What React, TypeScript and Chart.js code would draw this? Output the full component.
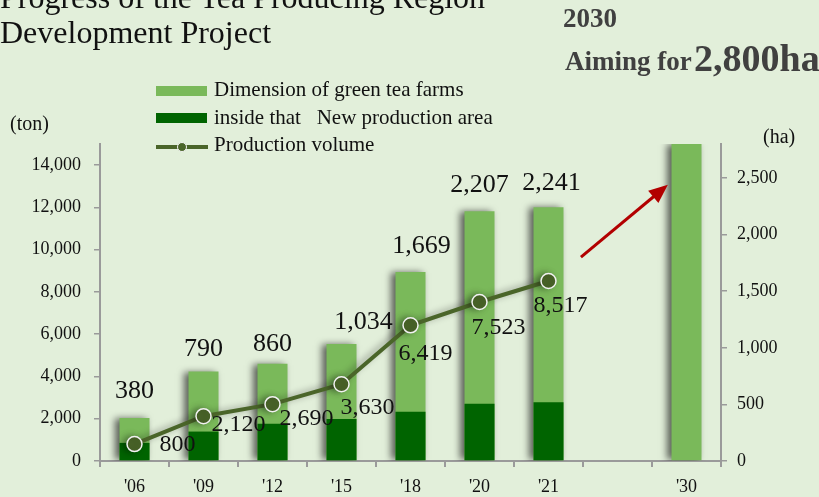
import React, { useEffect, useRef } from "react";
import { Chart, registerables } from "chart.js";

Chart.register(...registerables);

const categories = ["'06", "'09", "'12", "'15", "'18", "'20", "'21", "", "'30"];
const farmArea = [380, 790, 860, 1034, 1669, 2207, 2241, null, 2800];
const newArea = [160, 260, 330, 370, 435, 505, 520, null, null];
const production = [800, 2120, 2690, 3630, 6419, 7523, 8517, null, null];
const leftTicks = [0, 2000, 4000, 6000, 8000, 10000, 12000, 14000];
const rightTicks = [0, 500, 1000, 1500, 2000, 2500];

const BG = "#e2efda";
const LIGHT = "#7ab95a";
const DARK = "#006400";
const LINE = "#4a6529";
const SERIF = "'Liberation Serif', 'Times New Roman', serif";

const fmt = (v: number) => v.toLocaleString("en-US");

const shadowPlugin = {
  id: "shadowPlugin",
  beforeDatasetDraw(chart: any, args: any) {
    if (args.index === 0 || args.index === 2) {
      const ctx = chart.ctx;
      ctx.save();
      ctx.shadowColor = args.index === 0 ? "rgba(0,0,0,0.6)" : "rgba(0,0,0,0.35)";
      ctx.shadowBlur = 7;
      ctx.shadowOffsetX = -4;
      ctx.shadowOffsetY = 0;
    }
  },
  afterDatasetDraw(chart: any, args: any) {
    if (args.index === 0 || args.index === 2) chart.ctx.restore();
  },
};

const labelPlugin = {
  id: "labelPlugin",
  afterDatasetsDraw(chart: any) {
    const ctx = chart.ctx;
    const barMeta = chart.getDatasetMeta(0);
    const lineMeta = chart.getDatasetMeta(2);
    const barNudge = [[0, -20], [0, -16], [0, -13], [22, -15], [11, -19], [0, -19], [3, -17]];
    const lineNudge = [[43, 1], [35, 9], [34, 15], [26, 23], [15, 28], [19, 26], [12, 25]];
    ctx.save();
    ctx.fillStyle = "#111";
    ctx.textAlign = "center";
    ctx.textBaseline = "alphabetic";
    ctx.font = `26px ${SERIF}`;
    farmArea.forEach((v, i) => {
      if (v == null || categories[i] === "'30") return;
      const el = barMeta.data[i];
      const n = barNudge[i] || [0, -16];
      ctx.fillText(fmt(v), el.x + n[0], el.y + n[1]);
    });
    ctx.font = `24px ${SERIF}`;
    ctx.textBaseline = "middle";
    production.forEach((v, i) => {
      if (v == null) return;
      const el = lineMeta.data[i];
      const n = lineNudge[i] || [15, 20];
      ctx.fillText(fmt(v), el.x + n[0], el.y + n[1]);
    });
    // arrow towards the 2030 target
    const xs = chart.scales.x;
    const ys = chart.scales.y1;
    const x1 = xs.getPixelForValue(6.47);
    const y1 = ys.getPixelForValue(1800);
    const x2 = xs.getPixelForValue(7.73);
    const y2 = ys.getPixelForValue(2440);
    const ang = Math.atan2(y2 - y1, x2 - x1);
    const headLen = 19;
    const headW = 8;
    ctx.strokeStyle = "#b20000";
    ctx.fillStyle = "#b20000";
    ctx.lineWidth = 3;
    ctx.beginPath();
    ctx.moveTo(x1, y1);
    ctx.lineTo(x2 - Math.cos(ang) * headLen * 0.8, y2 - Math.sin(ang) * headLen * 0.8);
    ctx.stroke();
    ctx.beginPath();
    ctx.moveTo(x2, y2);
    ctx.lineTo(
      x2 - Math.cos(ang) * headLen - Math.sin(ang) * headW,
      y2 - Math.sin(ang) * headLen + Math.cos(ang) * headW
    );
    ctx.lineTo(
      x2 - Math.cos(ang) * headLen + Math.sin(ang) * headW,
      y2 - Math.sin(ang) * headLen - Math.cos(ang) * headW
    );
    ctx.closePath();
    ctx.fill();
    ctx.restore();
  },
};

export default function App() {
  const ref = useRef<HTMLCanvasElement | null>(null);

  useEffect(() => {
    if (!ref.current) return;
    Chart.defaults.font.family = SERIF;
    const tickFont = { family: SERIF, size: 18 };
    const chart = new Chart(ref.current, {
      type: "bar",
      data: {
        labels: categories,
        datasets: [
          {
            type: "bar",
            label: "Dimension of green tea farms",
            data: farmArea,
            backgroundColor: LIGHT,
            yAxisID: "y1",
            grouped: false,
            barPercentage: 0.435,
            categoryPercentage: 1,
            order: 2,
          } as any,
          {
            type: "bar",
            label: "inside that New production area",
            data: newArea,
            backgroundColor: DARK,
            yAxisID: "y1",
            grouped: false,
            barPercentage: 0.435,
            categoryPercentage: 1,
            order: 1,
          } as any,
          {
            type: "line",
            label: "Production volume",
            data: production,
            borderColor: LINE,
            borderWidth: 4,
            backgroundColor: LINE,
            pointBackgroundColor: LINE,
            pointBorderColor: "#f2f2f2",
            pointBorderWidth: 1.5,
            pointRadius: 7.5,
            yAxisID: "y",
            order: 0,
            tension: 0,
          } as any,
        ],
      },
      options: {
        responsive: false,
        animation: false,
        layout: { padding: { top: 144, left: 0, right: 0, bottom: 0 } },
        plugins: {
          legend: { display: false },
          tooltip: { enabled: false },
          title: { display: false },
        },
        scales: {
          x: {
            offset: true,
            grid: {
              drawOnChartArea: false,
              offset: true,
              color: "#9a9a9a",
              lineWidth: 2,
              tickLength: 6,
            },
            border: { color: "#9a9a9a", width: 2 },
            ticks: { font: tickFont, color: "#111", padding: 9, maxRotation: 0 },
            afterFit: (s: any) => {
              s.height = 36;
            },
          },
          y: {
            position: "left",
            min: 0,
            max: 15000,
            grid: { drawOnChartArea: false, color: "#9a9a9a", lineWidth: 1.5, tickLength: 6 },
            border: { color: "#9a9a9a", width: 2 },
            ticks: { font: tickFont, color: "#111", padding: 13, stepSize: 2000 },
            afterBuildTicks: (s: any) => {
              s.ticks = leftTicks.map((v) => ({ value: v }));
            },
            afterFit: (s: any) => {
              s.width = 100;
            },
          },
          y1: {
            position: "right",
            min: 0,
            max: 2800,
            grid: { drawOnChartArea: false, color: "#9a9a9a", lineWidth: 1.5, tickLength: 6 },
            border: { color: "#9a9a9a", width: 2 },
            ticks: { font: tickFont, color: "#111", padding: 10, stepSize: 500 },
            afterBuildTicks: (s: any) => {
              s.ticks = rightTicks.map((v) => ({ value: v }));
            },
            afterFit: (s: any) => {
              s.width = 98;
            },
          },
        },
      },
      plugins: [shadowPlugin, labelPlugin],
    } as any);
    return () => chart.destroy();
  }, []);

  const abs = (o: React.CSSProperties): React.CSSProperties => ({
    position: "absolute",
    whiteSpace: "pre",
    fontFamily: SERIF,
    ...o,
  });

  return (
    <div
      style={{
        position: "fixed",
        left: 0,
        top: 0,
        width: 819,
        height: 497,
        background: BG,
        overflow: "hidden",
      }}
    >
      <canvas ref={ref} width={819} height={497} style={{ display: "block", position: "absolute", left: 0, top: 0 }} />
      <div style={abs({ left: 0, top: -20.3, fontSize: 32, lineHeight: "35px", color: "#111" })}>
        {"Progress of the Tea Producing Region\nDevelopment Project"}
      </div>
      <div style={abs({ left: 563, top: 5, fontSize: 27, lineHeight: "27px", fontWeight: "bold", color: "#404040" })}>
        2030
      </div>
      <div style={abs({ left: 565, top: 48.4, fontSize: 27, lineHeight: "27px", fontWeight: "bold", color: "#404040" })}>
        Aiming for
      </div>
      <div style={abs({ left: 694, top: 39.2, fontSize: 38, lineHeight: "38px", fontWeight: "bold", color: "#404040" })}>
        2,800ha
      </div>
      <div style={abs({ left: 10, top: 113, fontSize: 20, lineHeight: "20px", color: "#111" })}>(ton)</div>
      <div style={abs({ left: 763, top: 126, fontSize: 20, lineHeight: "20px", color: "#111" })}>(ha)</div>

      {/* legend */}
      <div style={abs({ left: 156, top: 86, width: 51, height: 10, background: LIGHT })} />
      <div style={abs({ left: 214, top: 79.4, fontSize: 21, lineHeight: "21px", color: "#111" })}>
        Dimension of green tea farms
      </div>
      <div style={abs({ left: 156, top: 113, width: 51, height: 10, background: DARK })} />
      <div style={abs({ left: 214, top: 107.4, fontSize: 21, lineHeight: "21px", color: "#111" })}>
        {"inside that   New production area"}
      </div>
      <div style={abs({ left: 156, top: 145, width: 52, height: 4, background: LINE })} />
      <div
        style={abs({
          left: 177,
          top: 142,
          width: 8,
          height: 8,
          borderRadius: "50%",
          background: LINE,
          border: "1px solid #f2f2f2",
        })}
      />
      <div style={abs({ left: 214, top: 134.4, fontSize: 21, lineHeight: "21px", color: "#111" })}>
        Production volume
      </div>
    </div>
  );
}
